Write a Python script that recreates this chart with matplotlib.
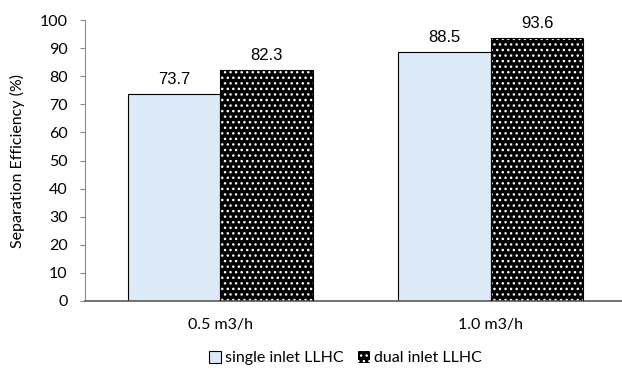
import matplotlib.pyplot as plt
import numpy as np

flows = ['0.5 m3/h', '1.0 m3/h']
single_inlet = [73.7, 88.5]
dual_inlet = [82.3, 93.6]
series_names = ['single inlet LLHC', 'dual inlet LLHC']

fig = plt.figure(figsize=(6.22, 3.79), dpi=100)
ax = fig.add_axes([85/622, 1 - 301/379, 541/622, 281/379])

x = np.arange(len(flows))
w = 0.342

# single inlet: pale blue
b1 = ax.bar(x - w/2, single_inlet, w, color='#dce9f6', edgecolor='black', linewidth=0.8,
            label=series_names[0], zorder=2)
# dual inlet: black with white dots, outline drawn on top
b2 = ax.bar(x + w/2, dual_inlet, w, color='black', edgecolor='white', hatch='...',
            linewidth=0, label=series_names[1], zorder=2)
ax.bar(x + w/2, dual_inlet, w, fill=False, edgecolor='black', linewidth=0.8, zorder=3)

for bars, vals in [(b1, single_inlet), (b2, dual_inlet)]:
    for b, v in zip(bars, vals):
        ax.annotate('%.1f' % v, (b.get_x() + b.get_width()/2, v), xytext=(0, 5),
                    textcoords='offset points', ha='center', va='bottom',
                    fontsize=12, family='Liberation Sans')

ax.set_xlim(-0.5, 1.5)
ax.set_ylim(0, 100)
ax.set_yticks(range(0, 101, 10))
ax.set_xticks(x)
ax.set_xticklabels(flows, family='Lato', fontsize=11.5)
for lbl in ax.get_yticklabels():
    lbl.set_family('Lato')
    lbl.set_fontsize(11.5)
ax.tick_params(axis='x', length=0, pad=12)
ax.tick_params(axis='y', length=3.6, width=0.8, color='#8c8c8c', pad=9)

ax.spines['top'].set_visible(False)
ax.spines['right'].set_visible(False)
ax.spines['left'].set_color('#8c8c8c')
ax.spines['left'].set_linewidth(0.8)
ax.spines['bottom'].set_color('#5a5a5a')
ax.spines['bottom'].set_linewidth(1.2)

ax.set_ylabel('Separation Efficiency (%)', family='Lato', fontsize=11.5)
ax.yaxis.set_label_coords(-0.11, 0.5)

fig.legend(handles=[b1, b2], loc='center', bbox_to_anchor=(345/622, 1 - 358/379), ncol=2,
           frameon=False, prop={'family': 'Lato', 'size': 11.5},
           handlelength=0.8, handleheight=0.8, handletextpad=0.2, columnspacing=0.9)

fig.savefig('out.png', dpi=100)
